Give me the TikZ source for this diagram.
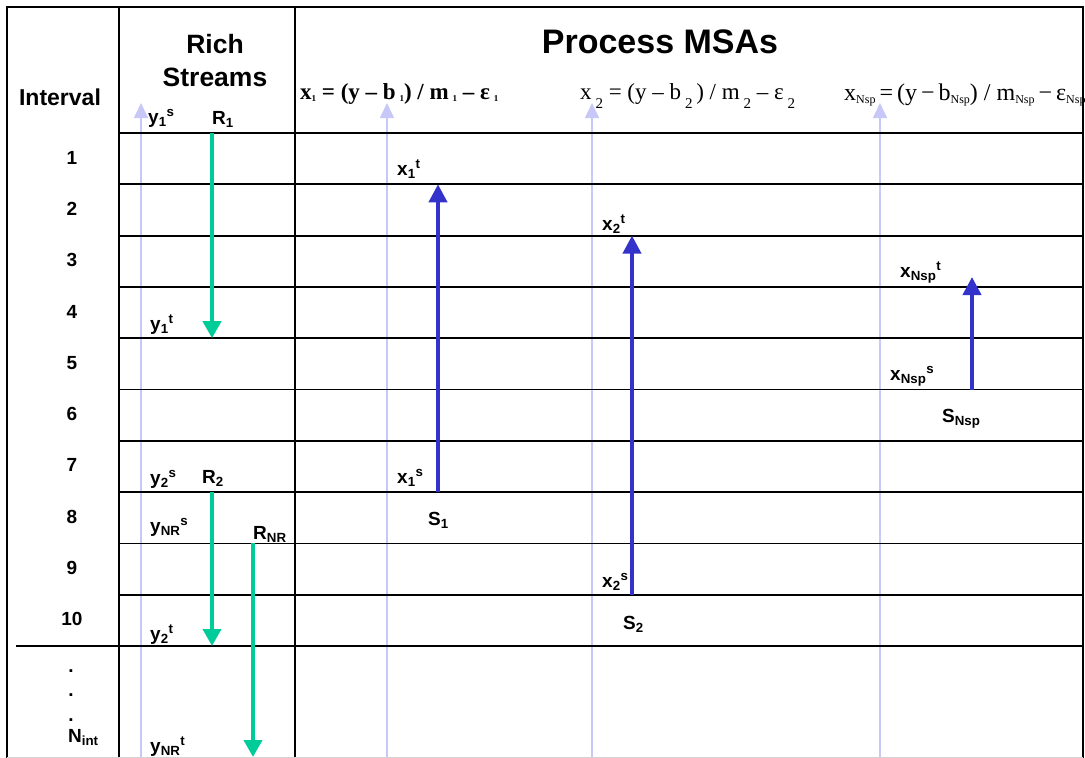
\documentclass[tikz,border=0pt]{standalone}
\usepackage{fontspec}
\setmainfont{Liberation Sans}
\newfontfamily\timesfont{Liberation Serif}
\usetikzlibrary{arrows.meta}
\definecolor{Lavender}{HTML}{C8C8F8}
\definecolor{RichGreen}{HTML}{00CC99}
\definecolor{LeanBlue}{HTML}{3333CC}
\newcommand{\lo}[1]{\,\raisebox{-2pt}{\fontsize{9}{9}\selectfont #1}}
\newcommand{\md}[1]{\,\raisebox{-9pt}{\fontsize{15}{15}\selectfont #1}}
\newcommand{\sm}[1]{\raisebox{-3pt}{\fontsize{12}{12}\selectfont #1}}

\begin{document}
\begin{tikzpicture}[x=1pt,y=-1pt,
    grid/.style={line width=1.8pt,black},
    scalearrow/.style={draw=Lavender,line width=1.5pt,-{Triangle[width=14pt,length=15pt]}},
    rich/.style={draw=RichGreen,line width=4pt,-{Triangle[width=18pt,length=17pt]}},
    lean/.style={draw=LeanBlue,line width=4pt,-{Triangle[width=18pt,length=18pt]}},
    lbl/.style={anchor=base west,inner sep=0pt,font=\fontsize{19}{22}\selectfont\bfseries},
    num/.style={inner sep=0pt,font=\fontsize{19}{22}\selectfont\bfseries},
    head/.style={inner sep=0pt,font=\fontsize{23}{33}\selectfont\bfseries,align=center},
    eqn/.style={anchor=base west,inner sep=0pt}
]
\useasboundingbox (0,0) rectangle (1085,758);

% concentration scales
\foreach \c/\x in {ys/141,xa/387,xb/592,xc/880}{
    \coordinate (\c-b) at (\x,758);
    \coordinate (\c-t) at (\x,103);
    \draw[scalearrow] (\c-b) -- (\c-t);
}

% table
\draw[grid] (7,758) -- (7,7) -- (1083,7) -- (1083,758);
\draw[grid] (119,8) -- (119,758);
\draw[grid] (295,8) -- (295,758);
\foreach \k in {0,...,9}{
    \draw[grid] (119,{133+51.3*\k}) -- (1083,{133+51.3*\k});
}
\draw[grid] (16,646) -- (1083,646);
\draw[gray!35,line width=1pt] (7,757) -- (1083,757);

% headings
\node[head] (intv) at (60,97) {Interval};
\node[head,font=\fontsize{26.5}{33}\selectfont\bfseries] (rich) at (215,61) {Rich\\Streams};
\node[inner sep=0pt,font=\fontsize{34}{40}\selectfont\bfseries] (proc) at (660,42) {Process MSAs};

\node[eqn] (eq1) at (300,99) {\timesfont\bfseries\fontsize{23}{24}\selectfont x\raisebox{-2pt}{\fontsize{9}{9}\selectfont 1} = (y – b\lo{1}) / m\lo{1} – ε\lo{1}};
\node[eqn] (eq2) at (580,99) {\timesfont\fontsize{23}{24}\selectfont x\md{2} = (y – b\md{2}\,) / m\md{2} – ε\md{2}};
\node[eqn] (eq3) at (844,100) {\timesfont\fontsize{24}{24}\selectfont x\sm{Nsp}\,=\,(y\,−\,b\sm{Nsp}) / m\sm{Nsp}\,−\,ε\sm{Nsp}};

% intervals
\foreach \n in {1,...,10}{
    \node[num] (int\n) at (72,{133+51.3*(\n-0.5)-1}) {\n};
}
\node[num,anchor=base] (dot1) at (71,672) {.};
\node[num,anchor=base] (dot2) at (71,696) {.};
\node[num,anchor=base] (dot3) at (71,721) {.};
\node[lbl] (nint) at (68,742) {N\textsubscript{int}};

% rich streams
\coordinate (r1s) at (212,133);
\coordinate (r1t) at (212,338.2);
\coordinate (r2s) at (212,492.1);
\coordinate (r2t) at (212,646);
\coordinate (rnrs) at (253,543.4);
\coordinate (rnrt) at (253,757);
\draw[rich] (r1s) -- (r1t);
\draw[rich] (r2s) -- (r2t);
\draw[rich] (rnrs) -- (rnrt);

\node[lbl] (y1s) at (148,123) {y\textsubscript{1}\textsuperscript{s}};
\node[lbl] (R1) at (212,124) {R\textsubscript{1}};
\node[lbl] (y1t) at (150,330) {y\textsubscript{1}\textsuperscript{t}};
\node[lbl] (y2s) at (150,484) {y\textsubscript{2}\textsuperscript{s}};
\node[lbl] (R2) at (202,483) {R\textsubscript{2}};
\node[lbl] (ynrs) at (150,532) {y\textsubscript{NR}\textsuperscript{s}};
\node[lbl] (RNR) at (253,539) {R\textsubscript{NR}};
\node[lbl] (y2t) at (150,640) {y\textsubscript{2}\textsuperscript{t}};
\node[lbl] (ynrt) at (150,752) {y\textsubscript{NR}\textsuperscript{t}};

% process MSAs
\coordinate (s1s) at (438,492.1);
\coordinate (s1t) at (438,184.3);
\coordinate (s2s) at (632,594.7);
\coordinate (s2t) at (632,235.6);
\coordinate (snsps) at (972,389.5);
\coordinate (snspt) at (972,277);
\draw[lean] (s1s) -- (s1t);
\draw[lean] (s2s) -- (s2t);
\draw[lean] (snsps) -- (snspt);

\node[lbl] (x1t) at (397,175) {x\textsubscript{1}\textsuperscript{t}};
\node[lbl] (x1s) at (397,483) {x\textsubscript{1}\textsuperscript{s}};
\node[lbl] (S1) at (428,525) {S\textsubscript{1}};
\node[lbl] (x2t) at (602,230) {x\textsubscript{2}\textsuperscript{t}};
\node[lbl] (x2s) at (602,587) {x\textsubscript{2}\textsuperscript{s}};
\node[lbl] (S2) at (623,629) {S\textsubscript{2}};
\node[lbl] (xnspt) at (900,277) {x\textsubscript{Nsp}\textsuperscript{t}};
\node[lbl] (xnsps) at (890,380) {x\textsubscript{Nsp}\textsuperscript{s}};
\node[lbl] (Snsp) at (942,422) {S\textsubscript{Nsp}};
\end{tikzpicture}
\end{document}
